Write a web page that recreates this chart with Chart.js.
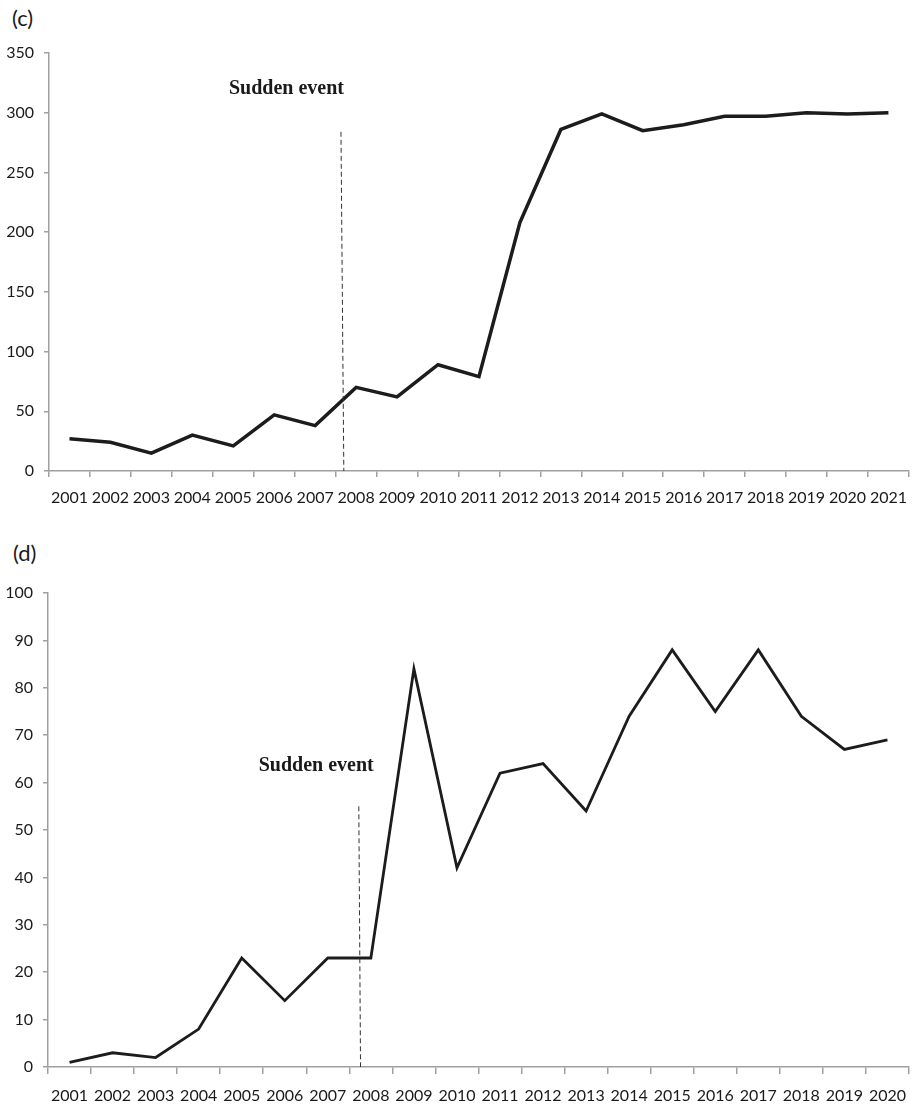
<!DOCTYPE html>
<html>
<head>
<meta charset="utf-8">
<script src="https://cdn.jsdelivr.net/npm/chart.js@4/dist/chart.umd.min.js"></script>
<style>
  html, body { margin: 0; padding: 0; background: #fff; }
  body { width: 918px; height: 1107px; position: relative; overflow: hidden; font-family: Lato, "Open Sans", sans-serif; }
  .panel { position: absolute; left: 0; width: 918px; }
  .tag { position: absolute; font-family: Lato, "Open Sans", sans-serif; font-size: 22px; line-height: 26px; color: #1a1a1a; }
</style>
</head>
<body>
<div class="tag" style="left:12px; top:5px;">(c)</div>
<div class="panel" style="top:0; height:520px;"><canvas id="chartC" width="918" height="520"></canvas></div>
<div class="tag" style="left:13px; top:540px;">(d)</div>
<div class="panel" style="top:520px; height:587px;"><canvas id="chartD" width="918" height="587"></canvas></div>
<script>
// Panel (c): yearly series 2001–2021
const yearsC = ['2001','2002','2003','2004','2005','2006','2007','2008','2009','2010','2011',
                '2012','2013','2014','2015','2016','2017','2018','2019','2020','2021'];
const valuesC = [27, 24, 15, 30, 21, 47, 38, 70, 62, 89, 79, 208, 286, 299, 285, 290, 297, 297, 300, 299, 300];
const yTicksC = [0, 50, 100, 150, 200, 250, 300, 350];

// Panel (d): yearly series 2001–2020
const yearsD = ['2001','2002','2003','2004','2005','2006','2007','2008','2009','2010',
                '2011','2012','2013','2014','2015','2016','2017','2018','2019','2020'];
const valuesD = [1, 3, 2, 8, 23, 14, 23, 23, 84, 42, 62, 64, 54, 74, 88, 75, 88, 74, 67, 69];
const yTicksD = [0, 10, 20, 30, 40, 50, 60, 70, 80, 90, 100];

// Event marker: [category index at top, category index at base], top value, label anchor [index, value]
const eventLineC = [6.63, 6.70];
const eventTopC = 284;
const eventLabelC = [5.30, 320];
const eventLineD = [6.72, 6.76];
const eventTopD = 55;
const eventLabelD = [5.73, 63.5];
const eventText = 'Sudden event';

const AXIS_GREY = '#a0a0a0';
const TEXT_COL = '#1a1a1a';
const TICK_FONT = { family: 'Lato, "Open Sans", sans-serif', size: 16 };

const eventPlugin = {
  id: 'eventMarker',
  afterDatasetsDraw(chart, args, opts) {
    const { ctx, scales: { x, y } } = chart;
    ctx.save();
    ctx.strokeStyle = '#333';
    ctx.lineWidth = 1;
    ctx.setLineDash([5, 3]);
    ctx.beginPath();
    ctx.moveTo(x.getPixelForValue(opts.line[0]), y.getPixelForValue(opts.top));
    ctx.lineTo(x.getPixelForValue(opts.line[1]), y.getPixelForValue(0));
    ctx.stroke();
    ctx.setLineDash([]);
    ctx.fillStyle = TEXT_COL;
    ctx.font = 'bold 20px "Liberation Serif", "Times New Roman", serif';
    ctx.textAlign = 'center';
    ctx.textBaseline = 'middle';
    ctx.fillText(eventText, x.getPixelForValue(opts.label[0]), y.getPixelForValue(opts.label[1]));
    ctx.restore();
  }
};

function makeChart(id, labels, values, yTicks, cfg) {
  const yMax = yTicks[yTicks.length - 1];
  const step = yTicks[1] - yTicks[0];
  return new Chart(document.getElementById(id), {
    type: 'line',
    data: {
      labels: labels,
      datasets: [{
        data: values,
        borderColor: '#1c1c1c',
        borderWidth: cfg.lineWidth,
        pointRadius: 0,
        tension: 0,
        fill: false,
        borderJoinStyle: 'miter'
      }]
    },
    plugins: [eventPlugin],
    options: {
      responsive: false,
      animation: false,
      events: [],
      layout: { padding: { top: cfg.top, right: 0, left: 0, bottom: 0 } },
      plugins: {
        legend: { display: false },
        tooltip: { enabled: false },
        eventMarker: cfg.event
      },
      scales: {
        x: {
          offset: true,
          grid: {
            offset: true,
            drawOnChartArea: false,
            drawTicks: true,
            tickLength: cfg.xTickLen,
            color: AXIS_GREY,
            lineWidth: 1.5
          },
          border: { color: AXIS_GREY, width: 1.5 },
          ticks: {
            autoSkip: false,
            maxRotation: 0,
            padding: cfg.xPad,
            color: TEXT_COL,
            font: TICK_FONT
          },
          afterFit(scale) { scale.height = cfg.xHeight; }
        },
        y: {
          min: 0,
          max: yMax,
          grid: {
            drawOnChartArea: false,
            drawTicks: true,
            tickLength: 5,
            color: AXIS_GREY,
            lineWidth: 1.5
          },
          border: { color: AXIS_GREY, width: 1.5 },
          ticks: {
            stepSize: step,
            padding: 10,
            color: TEXT_COL,
            font: TICK_FONT
          },
          afterFit(scale) { scale.width = cfg.yWidth; }
        }
      }
    }
  });
}

makeChart('chartC', yearsC, valuesC, yTicksC, {
  top: 53, xHeight: 49, yWidth: 49, xTickLen: 6, xPad: 11, lineWidth: 3.5,
  event: { line: eventLineC, top: eventTopC, label: eventLabelC }
});

makeChart('chartD', yearsD, valuesD, yTicksD, {
  top: 73, xHeight: 40, yWidth: 48, xTickLen: 7, xPad: 12, lineWidth: 2.8,
  event: { line: eventLineD, top: eventTopD, label: eventLabelD }
});
</script>
</body>
</html>
